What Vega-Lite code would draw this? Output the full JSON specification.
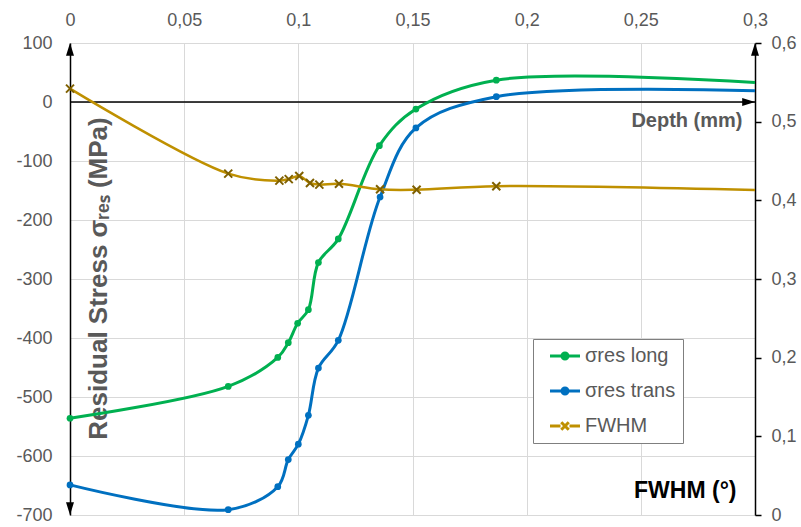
{
  "$schema": "https://vega.github.io/schema/vega-lite/v6.json",
  "width": 685,
  "height": 472,
  "autosize": {"type": "none"},
  "padding": {"left": 70, "top": 43, "right": 46, "bottom": 12},
  "config": {"view": {"stroke": null}, "font": "Liberation Sans"},
  "data": {"values": [
    {"s": "σres long", "d": 0, "v": -536, "m": 1},
    {"s": "σres long", "d": 0.0693, "v": -482, "m": 1},
    {"s": "σres long", "d": 0.091, "v": -433, "m": 1},
    {"s": "σres long", "d": 0.0956, "v": -408, "m": 1},
    {"s": "σres long", "d": 0.0997, "v": -375, "m": 1},
    {"s": "σres long", "d": 0.1044, "v": -352, "m": 1},
    {"s": "σres long", "d": 0.1088, "v": -272, "m": 1},
    {"s": "σres long", "d": 0.1175, "v": -232, "m": 1},
    {"s": "σres long", "d": 0.1355, "v": -74, "m": 1},
    {"s": "σres long", "d": 0.1515, "v": -12, "m": 1},
    {"s": "σres long", "d": 0.1867, "v": 37, "m": 1},
    {"s": "σres long", "d": 0.3, "v": 33, "m": 0},
    {"s": "σres trans", "d": 0, "v": -649, "m": 1},
    {"s": "σres trans", "d": 0.0693, "v": -691, "m": 1},
    {"s": "σres trans", "d": 0.091, "v": -652, "m": 1},
    {"s": "σres trans", "d": 0.0956, "v": -606, "m": 1},
    {"s": "σres trans", "d": 0.1, "v": -580, "m": 1},
    {"s": "σres trans", "d": 0.1044, "v": -531, "m": 1},
    {"s": "σres trans", "d": 0.1088, "v": -451, "m": 1},
    {"s": "σres trans", "d": 0.1175, "v": -404, "m": 1},
    {"s": "σres trans", "d": 0.1358, "v": -161, "m": 1},
    {"s": "σres trans", "d": 0.1515, "v": -44, "m": 1},
    {"s": "σres trans", "d": 0.1867, "v": 9, "m": 1},
    {"s": "σres trans", "d": 0.3, "v": 19, "m": 0},
    {"s": "FWHM", "d": 0, "v": 0.542, "m": 1},
    {"s": "FWHM", "d": 0.0693, "v": 0.434, "m": 1},
    {"s": "FWHM", "d": 0.0917, "v": 0.425, "m": 1},
    {"s": "FWHM", "d": 0.0958, "v": 0.427, "m": 1},
    {"s": "FWHM", "d": 0.1004, "v": 0.431, "m": 1},
    {"s": "FWHM", "d": 0.1051, "v": 0.422, "m": 1},
    {"s": "FWHM", "d": 0.1092, "v": 0.42, "m": 1},
    {"s": "FWHM", "d": 0.1178, "v": 0.421, "m": 1},
    {"s": "FWHM", "d": 0.1358, "v": 0.414, "m": 1},
    {"s": "FWHM", "d": 0.1518, "v": 0.4135, "m": 1},
    {"s": "FWHM", "d": 0.1867, "v": 0.418, "m": 1},
    {"s": "FWHM", "d": 0.3, "v": 0.413, "m": 0}
  ]},
  "encoding": {
    "x": {
      "field": "d", "type": "quantitative",
      "scale": {"domain": [0, 0.3], "nice": false, "zero": false},
      "axis": {
        "orient": "top", "title": "Depth (mm)",
        "titleX": 672, "titleY": 77, "titleAlign": "right", "titleBaseline": "middle", "titleAngle": 0,
        "titleFontSize": 20, "titleFontWeight": "bold", "titleColor": "#595959",
        "grid": true, "gridColor": "#d9d9d9", "gridWidth": 1, "domain": false, "ticks": false,
        "labelPadding": 14, "labelFontSize": 18, "labelColor": "#595959", "labelFlush": false,
        "values": [0, 0.05, 0.1, 0.15, 0.2, 0.25, 0.3],
        "labelExpr": "replace(format(datum.value, '.2~f'), '.', ',')"
      }
    }
  },
  "layer": [
    {
      "encoding": {
        "y": {
          "field": "v", "type": "quantitative",
          "scale": {"domain": [-700, 100], "nice": false, "zero": false},
          "axis": {
            "orient": "left", "title": "Residual Stress σᵣₑₛ (MPa)",
            "titleX": 36, "titleY": 235, "titleAngle": -90, "titleAlign": "center", "titleBaseline": "alphabetic",
            "titleFontSize": 26, "titleFontWeight": "bold", "titleColor": "#595959",
            "values": [-700, -600, -500, -400, -300, -200, -100, 0, 100],
            "grid": true, "gridColor": "#d9d9d9", "domain": true, "domainColor": "black", "domainWidth": 1.5,
            "ticks": false, "labelPadding": 18, "labelFontSize": 18, "labelColor": "#595959",
            "labelExpr": "datum.value < 0 ? '-' + (-datum.value) : '' + datum.value"
          }
        }
      },
      "layer": [
        {
          "data": {"values": [{"d": 0, "v": 0}, {"d": 0.3, "v": 0}]},
          "mark": {"type": "line", "color": "black", "strokeWidth": 1.5, "interpolate": "linear"}
        },
        {
          "transform": [{"filter": "datum.s !== 'FWHM'"}],
          "mark": {"type": "line", "strokeWidth": 3, "interpolate": "catmull-rom"},
          "encoding": {
            "color": {
              "field": "s", "type": "nominal",
              "scale": {"domain": ["σres long", "σres trans", "FWHM"], "range": ["#00B050", "#0070C0", "#BF9000"]},
              "legend": {
                "orient": "none", "legendX": 463, "legendY": 296, "title": null, "direction": "vertical",
                "strokeColor": "#7f7f7f", "fillColor": "white", "padding": 7,
                "symbolSize": 225, "symbolOffset": 15, "labelOffset": 10, "labelFontSize": 20,
                "labelColor": "#595959", "rowPadding": 15, "symbolStrokeWidth": 3,
                "encode": {"symbols": {"update": {
                  "shape": {"signal": "datum.value === 'FWHM' ? 'M-2,0H-0.6M0.6,0H2M-0.5,-0.5L0.5,0.5M-0.5,0.5L0.5,-0.5' : 'M-2,0H2M-0.4,0A0.4,0.4,0,1,0,0.4,0A0.4,0.4,0,1,0,-0.4,0Z'"},
                  "fill": {"scale": "color", "field": "value"},
                  "stroke": {"scale": "color", "field": "value"},
                  "opacity": {"value": 1}
                }}}
              }
            },
            "detail": {"field": "s"}
          }
        },
        {
          "transform": [{"filter": "datum.s !== 'FWHM' && datum.m === 1"}],
          "mark": {"type": "point", "filled": true, "size": 45, "opacity": 1},
          "encoding": {
            "color": {
              "field": "s", "type": "nominal",
              "scale": {"domain": ["σres long", "σres trans", "FWHM"], "range": ["#00B050", "#0070C0", "#BF9000"]}
            }
          }
        },
        {
          "data": {"values": [
            {"d": 0, "v": 100, "dir": "up"},
            {"d": 0, "v": -700, "dir": "down"},
            {"d": 0.3, "v": 0, "dir": "right"},
            {"d": 0.3, "v": 100, "dir": "up"}
          ]},
          "mark": {"type": "point", "filled": true, "color": "black", "size": 256, "opacity": 1},
          "encoding": {
            "shape": {
              "field": "dir", "type": "nominal", "legend": null,
              "scale": {"domain": ["up", "down", "right"], "range": ["M0,0L-0.5,1.6L0.5,1.6Z", "M0,0L-0.5,-1.6L0.5,-1.6Z", "M0,0L-1.6,-0.5L-1.6,0.5Z"]}
            }
          }
        }
      ]
    },
    {
      "transform": [{"filter": "datum.s === 'FWHM'"}],
      "encoding": {
        "y": {
          "field": "v", "type": "quantitative",
          "scale": {"domain": [0, 0.6], "nice": false, "zero": false},
          "axis": {
            "orient": "right", "title": "FWHM (°)",
            "titleX": -19, "titleY": 447, "titleAngle": 0, "titleAlign": "right", "titleBaseline": "middle",
            "titleFontSize": 23, "titleFontWeight": "bold", "titleColor": "black",
            "values": [0, 0.1, 0.2, 0.3, 0.4, 0.5, 0.6],
            "grid": false, "domainColor": "black", "domainWidth": 1.5,
            "tickColor": "black", "tickSize": 6, "tickWidth": 1.5,
            "labelPadding": 10, "labelFontSize": 18, "labelColor": "#595959",
            "labelExpr": "replace(format(datum.value, '.1~f'), '.', ',')"
          }
        }
      },
      "layer": [
        {
          "mark": {"type": "line", "strokeWidth": 2.5, "interpolate": "catmull-rom"},
          "encoding": {
            "color": {
              "field": "s", "type": "nominal",
              "scale": {"domain": ["σres long", "σres trans", "FWHM"], "range": ["#00B050", "#0070C0", "#BF9000"]}
            }
          }
        },
        {
          "transform": [{"filter": "datum.m === 1"}],
          "mark": {"type": "point", "shape": "M-1,-1L1,1M-1,1L1,-1", "size": 64, "strokeWidth": 2, "color": "#7F6000", "filled": false, "opacity": 1}
        }
      ]
    }
  ],
  "resolve": {"scale": {"y": "independent"}, "axis": {"y": "independent"}}
}
